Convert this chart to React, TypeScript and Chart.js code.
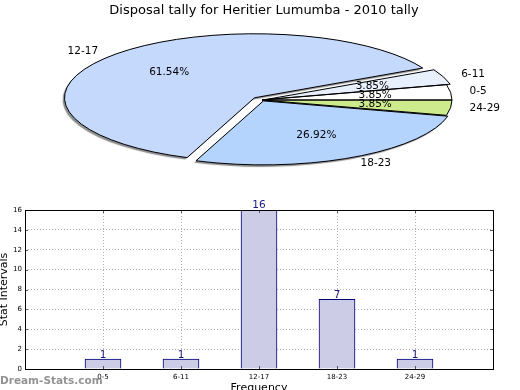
import React, { useEffect, useRef } from "react";
import { Chart, registerables } from "chart.js";

Chart.register(...registerables);

// ---- data ----
const categories = ["0-5", "6-11", "12-17", "18-23", "24-29"];
const counts = [1, 1, 16, 7, 1];
const yTicks = [0, 2, 4, 6, 8, 10, 12, 14, 16];
const titleText = "Disposal tally for Heritier Lumumba - 2010 tally";

// ---- styles ----
const pieColors = ["#ffffff", "#e8f0fe", "#c5d9fc", "#b4d3fd", "#cdea8c"];
const explodePx = [0, 4, 10, 3, 0];
const FONT = "DejaVu Sans";
const CX = 262,
  CY = 100,
  RX = 190,
  RY = 64;

Chart.defaults.font.family = FONT;
Chart.defaults.color = "#000";

export default function App() {
  const pieRef = useRef<HTMLCanvasElement | null>(null);
  const barRef = useRef<HTMLCanvasElement | null>(null);

  useEffect(() => {
    const total = counts.reduce((a, b) => a + b, 0);
    // pie drawn clockwise on screen, so reverse the order to mimic counter-clockwise
    const order = categories.map((_, i) => categories.length - 1 - i);
    const k = RY / RX;

    const piePlugin = {
      id: "ellipsePie",
      beforeDatasetsDraw(chart: any) {
        const ctx = chart.ctx as CanvasRenderingContext2D;
        const arcs = chart.getDatasetMeta(0).data as any[];
        const place = (arc: any, j: number) => {
          const mid = (arc.startAngle + arc.endAngle) / 2;
          const d = explodePx[order[j]];
          return { ox: Math.cos(mid) * d, oy: Math.sin(mid) * d * k, mid };
        };
        for (let pass = 0; pass < 2; pass++) {
          arcs.forEach((arc, j) => {
            const { ox, oy } = place(arc, j);
            ctx.save();
            if (pass === 0) {
              ctx.shadowColor = "rgba(0,0,0,0.45)";
              ctx.shadowOffsetX = -2;
              ctx.shadowOffsetY = 2;
              ctx.shadowBlur = 1;
            }
            ctx.translate(CX + ox, CY + oy);
            ctx.scale(1, k);
            ctx.translate(-arc.x, -arc.y);
            arc.draw(ctx);
            ctx.restore();
          });
        }
        arcs.forEach((arc, j) => {
          const { ox, oy } = place(arc, j);
          const x0 = CX + ox,
            y0 = CY + oy;
          ctx.save();
          ctx.beginPath();
          ctx.moveTo(x0, y0);
          ctx.ellipse(x0, y0, RX, RY, 0, arc.startAngle, arc.endAngle);
          ctx.closePath();
          ctx.lineWidth = 1;
          ctx.strokeStyle = "#000";
          ctx.lineJoin = "miter";
          ctx.stroke();
          ctx.restore();
        });
        return false;
      },
      afterDraw(chart: any) {
        const ctx = chart.ctx as CanvasRenderingContext2D;
        const arcs = chart.getDatasetMeta(0).data as any[];
        ctx.save();
        ctx.font = `10.5px "${FONT}"`;
        ctx.fillStyle = "#000";
        ctx.textBaseline = "middle";
        arcs.forEach((arc, j) => {
          const i = order[j];
          const mid = (arc.startAngle + arc.endAngle) / 2;
          const d = explodePx[i];
          const ox = Math.cos(mid) * d,
            oy = Math.sin(mid) * d * k;
          const c = Math.cos(mid),
            s = Math.sin(mid);
          const lx = CX + ox + 1.1 * RX * c;
          const ly = CY + oy + 1.1 * RY * s;
          ctx.textAlign = c > 0 ? "left" : "right";
          ctx.fillText(categories[i], lx, ly);
          const px = CX + ox + 0.6 * RX * c;
          const py = CY + oy + 0.6 * RY * s;
          ctx.textAlign = "center";
          ctx.fillText(((counts[i] / total) * 100).toFixed(2) + "%", px, py);
        });
        ctx.restore();
      },
    };

    const pie = new Chart(pieRef.current!, {
      type: "pie",
      data: {
        labels: order.map((i) => categories[i]),
        datasets: [
          {
            data: order.map((i) => counts[i]),
            backgroundColor: order.map((i) => pieColors[i]),
            borderWidth: 0,
            radius: RX,
          } as any,
        ],
      },
      options: {
        animation: false,
        responsive: false,
        events: [],
        rotation: 90,
        layout: { padding: { left: 8, right: 0, top: 0, bottom: 0 } },
        plugins: {
          legend: { display: false },
          tooltip: { enabled: false },
          title: {
            display: true,
            text: titleText,
            color: "#000",
            font: { family: FONT, size: 13, weight: "normal" },
            padding: { top: 3, bottom: 0 },
          },
        },
      },
      plugins: [piePlugin],
    });

    const barPlugin = {
      id: "barExtras",
      afterDatasetsDraw(chart: any) {
        const ctx = chart.ctx as CanvasRenderingContext2D;
        const meta = chart.getDatasetMeta(0);
        ctx.save();
        ctx.font = `10.5px "${FONT}"`;
        ctx.fillStyle = "#1a1a80";
        ctx.textAlign = "center";
        ctx.textBaseline = "bottom";
        meta.data.forEach((el: any, i: number) => {
          ctx.fillText(String(counts[i]), el.x, el.y + 1);
        });
        ctx.restore();
      },
      afterDraw(chart: any) {
        const { ctx, chartArea: a } = chart;
        const xs = chart.scales.x;
        const ys = chart.scales.y;
        ctx.save();
        ctx.lineWidth = 1;
        // inward tick marks like the reference
        ctx.beginPath();
        yTicks.forEach((v) => {
          const y = Math.round(ys.getPixelForValue(v)) + 0.5;
          ctx.moveTo(a.left, y);
          ctx.lineTo(a.left + 3, y);
          ctx.moveTo(a.right, y);
          ctx.lineTo(a.right - 3, y);
        });
        categories.forEach((_, i) => {
          const x = Math.round(xs.getPixelForValue(i + 1)) + 0.5;
          ctx.moveTo(x, a.bottom);
          ctx.lineTo(x, a.bottom - 3);
          ctx.moveTo(x, a.top);
          ctx.lineTo(x, a.top + 3);
        });
        ctx.strokeStyle = "#555";
        ctx.stroke();
        ctx.strokeStyle = "#000";
        ctx.strokeRect(Math.round(a.left) + 0.5, Math.round(a.top) + 0.5, Math.round(a.right - a.left), Math.round(a.bottom - a.top));
        ctx.restore();
      },
    };

    const gridColor = (edgeA: number, edgeB: number) => (c: any) =>
      c.tick && (c.tick.value === edgeA || c.tick.value === edgeB) ? "rgba(0,0,0,0)" : "#b4b4b4";

    const bar = new Chart(barRef.current!, {
      type: "bar",
      data: {
        datasets: [
          {
            data: categories.map((_, i) => ({ x: i + 1, y: counts[i] })),
            backgroundColor: "#ccccE6",
            borderColor: "#00007a",
            borderWidth: 1,
            barThickness: 36,
          } as any,
        ],
      },
      options: {
        animation: false,
        responsive: false,
        events: [],
        layout: { padding: { left: 0, right: 27, top: 10, bottom: 0 } },
        plugins: { legend: { display: false }, tooltip: { enabled: false } },
        scales: {
          x: {
            type: "linear",
            min: 0,
            max: 6,
            offset: false,
            ticks: {
              stepSize: 1,
              autoSkip: false,
              maxRotation: 0,
              padding: 4,
              color: "#000",
              font: { family: FONT, size: 7 },
              callback: (v: any) => categories[Number(v) - 1] ?? "",
            },
            grid: { color: gridColor(0, 6), drawTicks: false, lineWidth: 1, offset: false },
            border: { display: false, dash: [1, 2] },
            title: {
              display: true,
              text: "Frequency",
              color: "#000",
              font: { family: FONT, size: 11 },
              padding: { top: 0, bottom: 0 },
            },
            afterFit: (s: any) => {
              s.height = 26;
            },
          } as any,
          y: {
            min: 0,
            max: 16,
            afterBuildTicks: (s: any) => {
              s.ticks = yTicks.map((v) => ({ value: v }));
            },
            ticks: {
              padding: 3,
              color: "#000",
              font: { family: FONT, size: 7 },
            },
            grid: { color: gridColor(0, 16), drawTicks: false, lineWidth: 1 },
            border: { display: false, dash: [1, 2] },
            title: {
              display: true,
              text: "Stat Intervals",
              color: "#000",
              font: { family: FONT, size: 11 },
              padding: { top: -2, bottom: 0 },
            },
            afterFit: (s: any) => {
              s.width = 25;
            },
          } as any,
        },
      },
      plugins: [barPlugin],
    });

    return () => {
      pie.destroy();
      bar.destroy();
    };
  }, []);

  return (
    <div style={{ position: "absolute", left: 0, top: 0, width: 520, height: 390, overflow: "hidden", background: "#fff" }}>
      <canvas ref={pieRef} width={520} height={200} style={{ position: "absolute", left: 0, top: 0, width: 520, height: 200 }} />
      <canvas ref={barRef} width={520} height={195} style={{ position: "absolute", left: 0, top: 200, width: 520, height: 195 }} />
      <div
        style={{
          position: "absolute",
          left: 0,
          top: 374,
          font: `bold 10.5px "${FONT}"`,
          color: "rgba(120,120,120,0.8)",
          whiteSpace: "nowrap",
        }}
      >
        Dream-Stats.com
      </div>
    </div>
  );
}
